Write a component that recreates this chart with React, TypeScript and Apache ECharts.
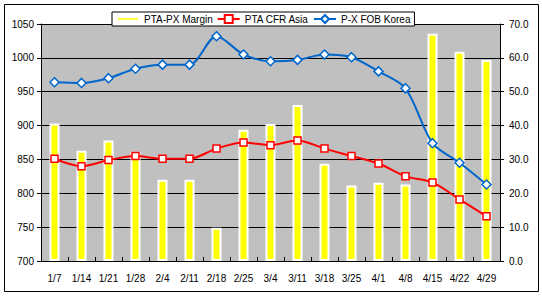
import React, { useEffect, useRef } from "react";
import * as echarts from "echarts";

const categories = ["1/7", "1/14", "1/21", "1/28", "2/4", "2/11", "2/18", "2/25", "3/4", "3/11", "3/18", "3/25", "4/1", "4/8", "4/15", "4/22", "4/29"];
const marginValues = [40.6, 32.6, 35.6, 32.3, 24.0, 24.0, 9.8, 38.8, 40.5, 46.1, 28.7, 22.3, 23.1, 22.6, 67.1, 61.8, 59.4];
const ptaCfrAsia = [851, 840, 849, 855, 851, 851, 866, 875, 871, 878, 866, 855, 844, 825, 816, 791, 766];
const pxFobKorea = [964, 963, 970, 984, 990, 990, 1032, 1005, 995, 997, 1005, 1001, 980, 955, 874, 845, 813];
const leftTicks = { min: 700, max: 1050, interval: 50 };
const rightTicks = { min: 0, max: 70, interval: 10 };

const FONT = "Liberation Sans, Arial, sans-serif";

export default function App() {
  const ref = useRef<HTMLDivElement>(null);
  useEffect(() => {
    if (!ref.current) return;
    const chart = echarts.init(ref.current, null, { renderer: "svg" });
    chart.setOption({
      animation: false,
      backgroundColor: "#fff",
      textStyle: { fontFamily: FONT },
      graphic: [
        {
          type: "rect",
          shape: { x: 4.5, y: 4.5, width: 534, height: 287 },
          style: { fill: "none", stroke: "#000", lineWidth: 1 },
          z: -1,
        },
      ],
      legend: {
        left: 112,
        top: 12,
        backgroundColor: "#fff",
        borderColor: "#000",
        borderWidth: 1,
        borderRadius: 0,
        padding: [2, 4, 2, 4],
        itemGap: 4,
        itemWidth: 22,
        itemHeight: 10,
        textStyle: { fontSize: 10, color: "#000", fontFamily: FONT },
        data: [
          { name: "PTA-PX Margin", icon: "path://M0,0L24,0L24,4L0,4Z" },
          { name: "PTA CFR Asia" },
          { name: "P-X FOB Korea" },
        ],
      },
      grid: { left: 41, right: 43, top: 24, bottom: 39, show: true, backgroundColor: "#C0C0C0", borderWidth: 0 },
      xAxis: {
        type: "category",
        data: categories,
        boundaryGap: true,
        axisLine: { lineStyle: { color: "#000", width: 1 } },
        axisTick: { show: true, inside: true, length: 4, lineStyle: { color: "#000" } },
        axisLabel: { fontSize: 10, color: "#000", margin: 12, interval: 0, fontFamily: FONT },
      },
      yAxis: [
        {
          type: "value",
          min: leftTicks.min,
          max: leftTicks.max,
          interval: leftTicks.interval,
          axisLine: { show: true, lineStyle: { color: "#000", width: 1 } },
          axisTick: { show: true, length: 4, lineStyle: { color: "#000" } },
          axisLabel: { fontSize: 10, color: "#000", margin: 7, fontFamily: FONT, formatter: (v: number) => String(v) },
          splitLine: { show: true, lineStyle: { color: "#000", width: 1 } },
        },
        {
          type: "value",
          min: rightTicks.min,
          max: rightTicks.max,
          interval: rightTicks.interval,
          position: "right",
          axisLine: { show: true, lineStyle: { color: "#000", width: 1 } },
          axisTick: { show: true, length: 4, lineStyle: { color: "#000" } },
          axisLabel: { fontSize: 10, color: "#000", margin: 9, fontFamily: FONT, formatter: (v: number) => v.toFixed(1) },
          splitLine: { show: false },
        },
      ],
      series: [
        {
          name: "PTA-PX Margin",
          type: "bar",
          yAxisIndex: 1,
          data: marginValues,
          barWidth: 10,
          itemStyle: { color: "#FFFF00", borderColor: "#FFFFFF", borderWidth: 2 },
          z: 2,
        },
        {
          name: "PTA CFR Asia",
          type: "line",
          yAxisIndex: 0,
          data: ptaCfrAsia,
          smooth: 0.3,
          symbol: "rect",
          symbolSize: 7,
          lineStyle: { color: "#FF0000", width: 2 },
          itemStyle: { color: "#FFFFFF", borderColor: "#FF0000", borderWidth: 1.5 },
          z: 3,
        },
        {
          name: "P-X FOB Korea",
          type: "line",
          yAxisIndex: 0,
          data: pxFobKorea,
          smooth: 0.3,
          symbol: "diamond",
          symbolSize: 9,
          lineStyle: { color: "#0066CC", width: 2 },
          itemStyle: { color: "#FFFFFF", borderColor: "#0066CC", borderWidth: 1.5 },
          z: 4,
        },
      ],
    });
    return () => chart.dispose();
  }, []);
  return <div ref={ref} style={{ position: "absolute", left: 0, top: 0, width: 543, height: 300 }} />;
}
